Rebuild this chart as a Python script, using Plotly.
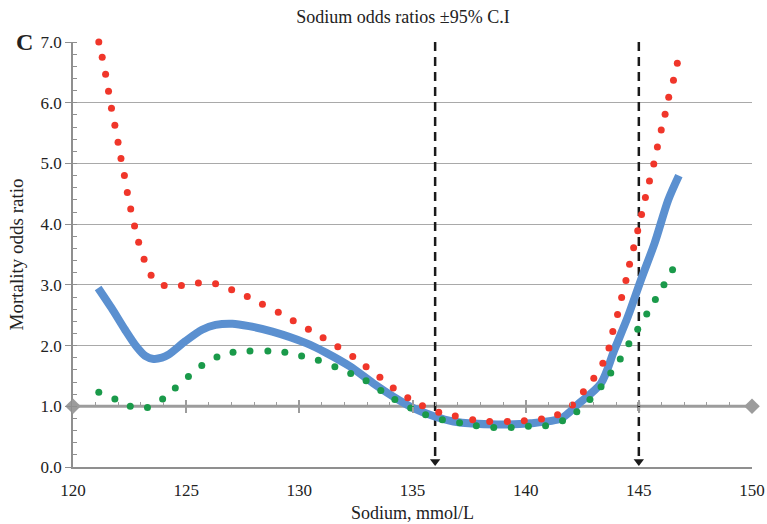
import plotly.graph_objects as go

# ---- data ----
upper_x = [121.14, 121.29, 121.44, 121.57, 121.70, 121.85, 121.99, 122.12, 122.27, 122.40,
           122.55, 122.72, 122.90, 123.14, 123.45, 124.03, 124.79, 125.54, 126.30, 127.01,
           127.70, 128.37, 129.07, 129.73, 130.40, 131.05, 131.70, 132.36, 132.95, 133.56,
           134.15, 134.79, 135.44, 136.16, 136.89, 137.66, 138.41, 139.19, 139.94, 140.70,
           141.41, 142.07, 142.55, 143.01, 143.41, 143.68, 143.85, 144.06, 144.24, 144.43,
           144.59, 144.77, 144.95, 145.12, 145.29, 145.47, 145.66, 145.82, 145.99, 146.16,
           146.32, 146.53, 146.70]
upper_y = [7.00, 6.75, 6.47, 6.19, 5.91, 5.63, 5.35, 5.08, 4.80, 4.52,
           4.25, 3.97, 3.70, 3.42, 3.16, 2.99, 2.99, 3.03, 3.02, 2.92,
           2.81, 2.68, 2.55, 2.41, 2.27, 2.13, 1.98, 1.82, 1.65, 1.48,
           1.30, 1.14, 1.01, 0.90, 0.84, 0.78, 0.75, 0.75, 0.76, 0.79,
           0.86, 1.02, 1.24, 1.46, 1.71, 1.96, 2.23, 2.51, 2.79, 3.07,
           3.34, 3.61, 3.89, 4.16, 4.44, 4.71, 4.99, 5.27, 5.55, 5.81,
           6.09, 6.37, 6.65]

lower_x = [121.14, 121.85, 122.53, 123.29, 123.96, 124.52, 125.10, 125.69, 126.36, 127.07,
           127.82, 128.61, 129.36, 130.10, 130.84, 131.57, 132.27, 132.95, 133.60, 134.22,
           134.92, 135.58, 136.32, 137.08, 137.82, 138.59, 139.36, 140.12, 140.88, 141.63,
           142.26, 142.84, 143.33, 143.76, 144.18, 144.56, 144.95, 145.35, 145.73, 146.11,
           146.49]
lower_y = [1.23, 1.12, 1.00, 0.98, 1.12, 1.30, 1.49, 1.67, 1.81, 1.89,
           1.91, 1.91, 1.89, 1.83, 1.76, 1.65, 1.54, 1.42, 1.26, 1.11,
           0.97, 0.86, 0.78, 0.73, 0.68, 0.65, 0.65, 0.67, 0.68, 0.76,
           0.91, 1.11, 1.32, 1.55, 1.78, 2.03, 2.27, 2.52, 2.76, 3.00,
           3.25]

or_x = [121.11, 121.70, 122.30, 122.81, 123.19, 123.56, 123.93, 124.22, 124.96, 125.70,
        126.30, 127.04, 127.78, 128.81, 130.30, 131.19, 132.22, 133.26, 134.15, 135.04,
        135.92, 136.81, 138.74, 140.22, 141.56, 142.30, 143.33, 143.92, 144.52, 145.11,
        145.70, 146.30, 146.77]
or_y = [2.95, 2.62, 2.26, 1.98, 1.83, 1.78, 1.80, 1.85, 2.07, 2.26,
        2.34, 2.36, 2.32, 2.23, 2.04, 1.88, 1.66, 1.38, 1.16, 0.97,
        0.84, 0.75, 0.70, 0.72, 0.80, 1.03, 1.38, 1.93, 2.48, 3.10,
        3.69, 4.40, 4.80]

cutoffs = [136, 145]
ref_x = [120, 150]
ref_y = [1, 1]
x_ticks = [120, 125, 130, 135, 140, 145, 150]
y_ticks = [0, 1, 2, 3, 4, 5, 6, 7]

FONT = "Liberation Serif"
GRID = "#a9a9a9"
AXIS = "#8f8f8f"
TXT = "#222222"

fig = go.Figure()

# reference line at OR = 1 with diamond ends
fig.add_trace(go.Scatter(x=ref_x, y=ref_y, mode="lines+markers",
                         line=dict(color="#9c9c9c", width=3),
                         marker=dict(symbol="diamond", size=12, color="#9c9c9c"),
                         hoverinfo="skip", showlegend=False, cliponaxis=False))

# dashed cut-off lines with arrow heads
for c in cutoffs:
    fig.add_trace(go.Scatter(x=[c, c], y=[7, 0.14], mode="lines",
                             line=dict(color="#1a1a1a", width=2.5, dash="9px,6px"),
                             hoverinfo="skip", showlegend=False))
    fig.add_trace(go.Scatter(x=[c], y=[0.09], mode="markers",
                             marker=dict(symbol="triangle-down", size=9, color="#1a1a1a"),
                             hoverinfo="skip", showlegend=False))

# odds ratio curve
fig.add_trace(go.Scatter(x=or_x, y=or_y, mode="lines",
                         line=dict(color="#5b90d0", width=8, shape="spline", smoothing=0.8),
                         showlegend=False, name="OR"))

# confidence limits
fig.add_trace(go.Scatter(x=upper_x, y=upper_y, mode="markers",
                         marker=dict(color="#f0362a", size=7),
                         showlegend=False, name="upper 95% CI", cliponaxis=False))
fig.add_trace(go.Scatter(x=lower_x, y=lower_y, mode="markers",
                         marker=dict(color="#1a9a4a", size=7),
                         showlegend=False, name="lower 95% CI"))

# invisible helpers so the tick axes along OR = 1 render
for ax in ["x2", "x3"]:
    fig.add_trace(go.Scatter(x=[135], y=[1], xaxis=ax, yaxis="y", mode="markers",
                             marker=dict(opacity=0), hoverinfo="skip", showlegend=False))

fig.update_layout(
    width=767, height=524,
    margin=dict(l=73, r=15, t=42, b=57),
    paper_bgcolor="white", plot_bgcolor="white",
    font=dict(family=FONT, size=17, color=TXT),
    title=dict(text="Sodium odds ratios ±95% C.I", x=0.486, xref="paper", xanchor="center",
               y=1 - 17 / 524, yref="container", yanchor="middle",
               font=dict(family=FONT, size=18, color=TXT)),
    xaxis=dict(range=[120, 150], tickvals=x_ticks, ticks="outside", ticklen=7,
               tickcolor="rgba(0,0,0,0)", showgrid=False, zeroline=False, automargin=False,
               showline=True, linecolor=AXIS, linewidth=1.5,
               title=dict(text="Sodium, mmol/L", font=dict(size=18), standoff=7),
               tickfont=dict(size=17)),
    xaxis2=dict(range=[120, 150], overlaying="x", anchor="free", position=1/7, side="top",
                showticklabels=False, showgrid=False, zeroline=False, showline=False,
                tick0=120, dtick=5, ticks="outside", ticklen=6, tickwidth=1.5, tickcolor="#9c9c9c",
                minor=dict(dtick=1, tick0=120, ticks="outside", ticklen=4, tickwidth=1.2,
                           tickcolor="#9c9c9c")),
    xaxis3=dict(range=[120, 150], overlaying="x", anchor="free", position=1/7, side="bottom",
                showticklabels=False, showgrid=False, zeroline=False, showline=False,
                tick0=120, dtick=5, ticks="outside", ticklen=6, tickwidth=1.5, tickcolor="#9c9c9c"),
    yaxis=dict(range=[0, 7], tickvals=y_ticks, tickformat=".1f", ticks="outside", ticklen=6,
               tickcolor=AXIS, tickwidth=1.2, showline=True, linecolor=AXIS, linewidth=1.5,
               showgrid=True, gridcolor=GRID, gridwidth=1.3, zeroline=False, automargin=False,
               minor=dict(dtick=0.2, tick0=0, ticks="inside", ticklen=4, tickcolor=AXIS,
                          tickwidth=1, showgrid=False),
               title=dict(text="Mortality odds ratio", font=dict(size=19), standoff=12),
               tickfont=dict(size=17)),
    annotations=[dict(text="<b>C</b>", xref="paper", yref="paper", x=-0.071, y=1.0,
                      xanchor="center", yanchor="middle", showarrow=False,
                      font=dict(family=FONT, size=24, color=TXT))],
)

# place the figure at the page origin so it fills the 767x524 window exactly
fig.write_html("out.html", config={"displayModeBar": False},
               post_script="document.body.style.margin='0';document.body.style.overflow='hidden';")
